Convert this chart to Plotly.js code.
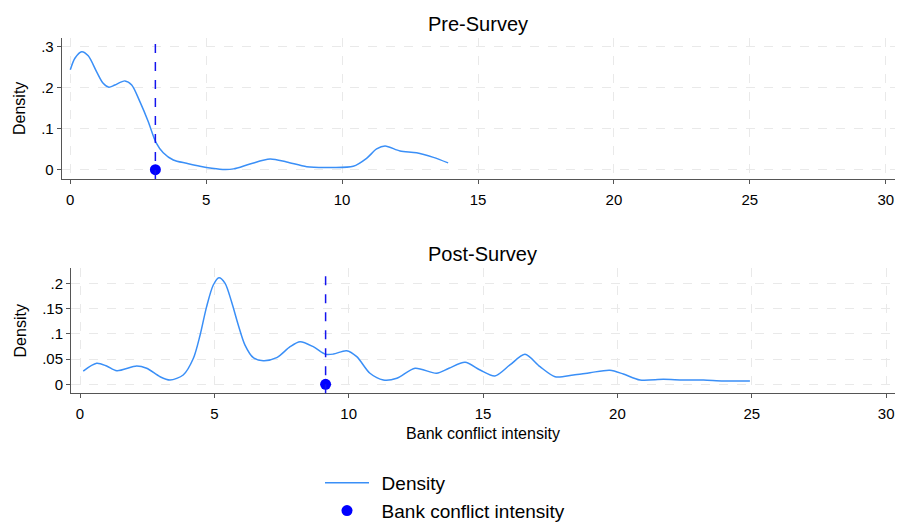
<!DOCTYPE html>
<html>
<head>
<meta charset="utf-8">
<script src="https://cdn.plot.ly/plotly-3.0.1.min.js"></script>
<style>html,body{margin:0;padding:0;background:#fff;}#chart{width:898px;height:523px;}</style>
</head>
<body>
<div id="chart"></div>
<script>
// Pre-Survey kernel density
var preX = [0, 0.17, 0.42, 0.66, 0.97, 1.21, 1.42, 1.64, 2.01, 2.26, 2.56, 2.87, 3.15, 3.42, 3.79, 4.28, 4.77, 5.5, 6.0, 6.61, 7.35, 7.96, 8.7, 9.43, 10.41, 10.9, 11.27, 11.58, 12.13, 12.74, 13.36, 13.9];
var preY = [0.243, 0.271, 0.287, 0.277, 0.238, 0.210, 0.2005, 0.206, 0.216, 0.206, 0.1655, 0.1168, 0.0667, 0.0414, 0.0236, 0.0155, 0.0083, 0.0012, 0.002, 0.0139, 0.026, 0.0187, 0.0073, 0.0056, 0.0083, 0.0277, 0.0504, 0.0577, 0.0455, 0.0414, 0.030, 0.0165];
// Post-Survey kernel density
var postX = [0.12, 0.62, 0.99, 1.37, 2.11, 2.48, 2.98, 3.35, 3.84, 4.22, 4.47, 4.71, 4.96, 5.17, 5.40, 5.64, 5.89, 6.14, 6.45, 6.82, 7.32, 7.82, 8.19, 8.68, 9.14, 9.43, 9.92, 10.3, 10.79, 11.29, 11.79, 12.47, 13.27, 13.73, 14.33, 14.89, 15.44, 16.0, 16.56, 17.12, 17.68, 18.36, 18.98, 19.72, 20.22, 20.84, 21.71, 22.45, 23.2, 23.94, 24.93];
var postY = [0.0264, 0.0417, 0.0364, 0.027, 0.0364, 0.0318, 0.0151, 0.0086, 0.0185, 0.0517, 0.098, 0.154, 0.1974, 0.212, 0.2008, 0.164, 0.118, 0.078, 0.053, 0.047, 0.053, 0.0748, 0.0847, 0.0748, 0.0596, 0.060, 0.0668, 0.055, 0.0219, 0.0086, 0.0119, 0.0318, 0.0219, 0.0318, 0.0437, 0.0284, 0.0165, 0.0384, 0.0596, 0.035, 0.0151, 0.0185, 0.0231, 0.0278, 0.0205, 0.0086, 0.0099, 0.0086, 0.0086, 0.0066, 0.0066];
// Bank conflict intensity (mean) for each panel
var preMean = 3.13;
var postMean = 9.14;
var panelTitles = ['Pre-Survey', 'Post-Survey'];
var xTicks = [0, 5, 10, 15, 20, 25, 30];
var preYTicks = [0, 0.1, 0.2, 0.3];
var preYText = ['0', '.1', '.2', '.3'];
var postYTicks = [0, 0.05, 0.1, 0.15, 0.2];
var postYText = ['0', '.05', '.1', '.15', '.2'];

var W = 898, H = 523;
var densColor = '#3a8ff7';
var meanColor = '#0000ff';
var vlineColor = '#1414ee';

var traces = [
  {x: preX, y: preY, xaxis: 'x', yaxis: 'y', mode: 'lines', line: {color: densColor, width: 1.5, shape: 'spline', smoothing: 0.8}, name: '\u2009\u2009Density', showlegend: true, hoverinfo: 'skip'},
  {x: [preMean], y: [0], xaxis: 'x', yaxis: 'y', mode: 'markers', marker: {color: meanColor, size: 11}, name: '\u2009\u2009Bank conflict intensity', showlegend: true, cliponaxis: false},
  {x: postX, y: postY, xaxis: 'x2', yaxis: 'y2', mode: 'lines', line: {color: densColor, width: 1.5, shape: 'spline', smoothing: 0.8}, name: 'Density', showlegend: false},
  {x: [postMean], y: [0], xaxis: 'x2', yaxis: 'y2', mode: 'markers', marker: {color: meanColor, size: 11}, name: 'Bank conflict intensity', showlegend: false, cliponaxis: false}
];

var font = {family: 'Liberation Sans, Arial, Helvetica, sans-serif', color: '#000'};
function xax(dom, anchor, title) {
  var a = {domain: dom, anchor: anchor, range: null, tickvals: xTicks, ticktext: xTicks.map(String),
    showgrid: true, gridcolor: '#e9e9e9', griddash: 'dash', gridwidth: 1,
    showline: true, linecolor: '#555', linewidth: 1, ticks: 'outside', ticklen: 4, tickcolor: '#555',
    ticklabelstandoff: 3,
    zeroline: false, tickfont: {family: font.family, size: 15, color: '#000'}, automargin: false, fixedrange: true};
  if (title) a.title = {text: title, font: {family: font.family, size: 16, color: '#000'}, standoff: 6};
  return a;
}
function yax(dom, anchor, tv, tt, rng) {
  return {domain: dom, anchor: anchor, range: rng, tickvals: tv, ticktext: tt,
    showgrid: true, gridcolor: '#e9e9e9', griddash: 'dash', gridwidth: 1,
    showline: true, linecolor: '#555', linewidth: 1, ticks: 'outside', ticklen: 4, tickcolor: '#555',
    zeroline: false, tickfont: {family: font.family, size: 15, color: '#000'}, automargin: false, fixedrange: true,
    title: {text: 'Density', font: {family: font.family, size: 16, color: '#000'}, standoff: 11}};
}

var xa1 = xax([61.7 / W, 895 / W], 'y', null); xa1.range = [-0.316, 30.34];
var xa2 = xax([71 / W, 895 / W], 'y2', 'Bank conflict intensity'); xa2.range = [-0.335, 30.33];

var layout = {
  width: W, height: H,
  margin: {l: 0, r: 0, t: 0, b: 0, autoexpand: false},
  paper_bgcolor: '#fff', plot_bgcolor: '#fff',
  font: font,
  xaxis: xa1,
  yaxis: yax([1 - 179 / H, 1 - 37.7 / H], 'x', preYTicks, preYText, [-0.0226, 0.321]),
  xaxis2: xa2,
  yaxis2: yax([1 - 393.3 / H, 1 - 268.3 / H], 'x2', postYTicks, postYText, [-0.0179, 0.2306]),
  shapes: [
    {type: 'line', xref: 'x', yref: 'y domain', x0: preMean, x1: preMean, y0: 0, y1: 1, line: {color: vlineColor, width: 1.5, dash: 'dash'}},
    {type: 'line', xref: 'x2', yref: 'y2 domain', x0: postMean, x1: postMean, y0: 0, y1: 1, line: {color: vlineColor, width: 1.5, dash: 'dash'}}
  ],
  annotations: [
    {text: panelTitles[0], xref: 'x domain', yref: 'paper', x: 0.5, y: 1 - 23.5 / H, xanchor: 'center', yanchor: 'middle', showarrow: false, font: {family: font.family, size: 20, color: '#000'}},
    {text: panelTitles[1], xref: 'x2 domain', yref: 'paper', x: 0.5, y: 1 - 253.5 / H, xanchor: 'center', yanchor: 'middle', showarrow: false, font: {family: font.family, size: 20, color: '#000'}}
  ],
  showlegend: true,
  legend: {x: 320 / W, y: 1 - 464 / H, xanchor: 'left', yanchor: 'top', orientation: 'v', font: {family: font.family, size: 19, color: '#000'}, bgcolor: 'rgba(0,0,0,0)', itemwidth: 44, tracegroupgap: 0, traceorder: 'normal'}
};

Plotly.newPlot('chart', traces, layout, {displayModeBar: false, staticPlot: true});
</script>
</body>
</html>
